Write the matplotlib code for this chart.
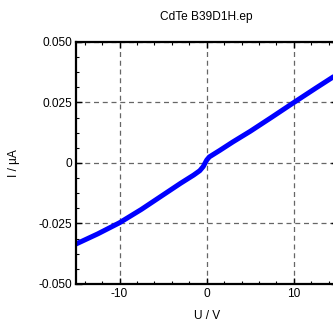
import numpy as np
import matplotlib
matplotlib.use("Agg")
import matplotlib.pyplot as plt
from matplotlib.ticker import MultipleLocator

plt.rcParams['font.family'] = ['Liberation Sans', 'DejaVu Sans']
plt.rcParams['axes.unicode_minus'] = False

# I-V curve
voltage = [-15, -12.5, -10, -7.5, -5, -3, -1.5, -0.8, -0.4, 0, 0.3, 0.7,
           1.5, 3, 5, 7.5, 10, 12.5, 15]
current = [-0.0335, -0.0293, -0.0247, -0.0192, -0.0132, -0.0084, -0.0050,
           -0.0032, -0.0015, 0.0012, 0.0025, 0.0034, 0.0052, 0.0087, 0.0131,
           0.0190, 0.0250, 0.0309, 0.0367]

x_ticks = [-10, 0, 10]
y_ticks = [-0.050, -0.025, 0, 0.025, 0.050]
y_tick_labels = ["-0.050", "-0.025", "0", "0.025", "0.050"]

fig = plt.figure(figsize=(3.33, 3.24), dpi=100)
ax = fig.add_axes([0.228, 0.1235, 0.7855, 0.747])

ax.plot(voltage, current, color=(0, 0, 1), lw=3.6, solid_capstyle='butt')

ax.set_xlim(-15, 15)
ax.set_ylim(-0.050, 0.050)
ax.set_xticks(x_ticks)
ax.set_yticks(y_ticks)
ax.set_yticklabels(y_tick_labels)
ax.xaxis.set_minor_locator(MultipleLocator(2))
ax.yaxis.set_minor_locator(MultipleLocator(0.00625))

ax.grid(True, which='major', ls=(0, (4, 3)), color='#666666', lw=0.9)
ax.tick_params(which='both', direction='in', top=True, right=True,
               labelsize=8.6, pad=3)
ax.tick_params(which='major', length=4, width=1)
ax.tick_params(which='minor', length=2, width=0.8)
for s in ax.spines.values():
    s.set_linewidth(1.6)

ax.set_title("CdTe B39D1H.ep", fontsize=8.6, pad=16)
ax.set_xlabel("U / V", fontsize=8.6, labelpad=7)
ax.set_ylabel("I / µA", fontsize=8.6, labelpad=13)

fig.savefig("out.png", dpi=100)
